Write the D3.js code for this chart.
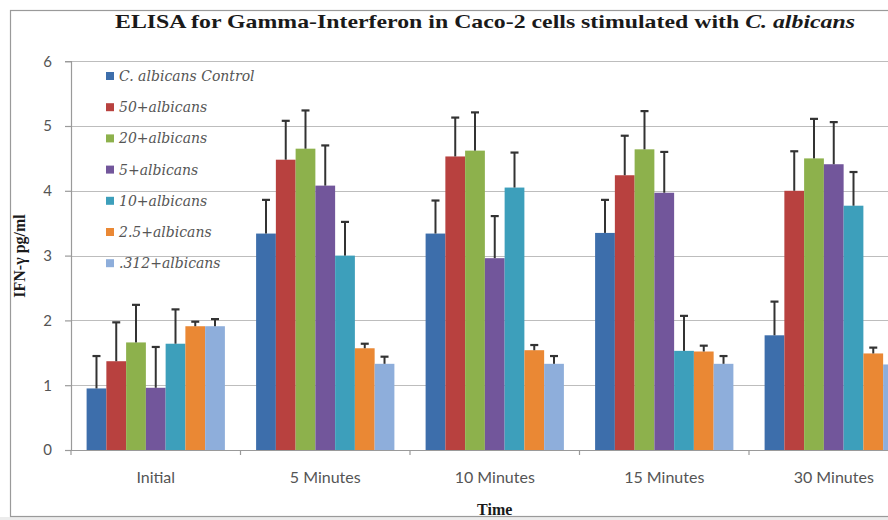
<!DOCTYPE html>
<html>
<head>
<meta charset="utf-8">
<script src="https://cdn.jsdelivr.net/npm/d3@7"></script>
<style>
  html, body { margin: 0; padding: 0; background: #ffffff; }
  svg { display: block; }
</style>
</head>
<body>
<svg id="chart" width="888" height="520"></svg>
<script>
// Time points on the x axis
const timePoints = ["Initial", "5 Minutes", "10 Minutes", "15 Minutes", "30 Minutes"];

// Treatment series (legend order)
const seriesNames = ["C. albicans Control", "50+albicans", "20+albicans", "5+albicans",
                     "10+albicans", "2.5+albicans", ".312+albicans"];
const seriesColors = ["#3d6eab", "#b8413f", "#8db14c", "#72569b", "#3d9fbb", "#ea8834", "#8eaedb"];

// Mean IFN-γ (pg/ml) per series, one value per time point
const controlMean = [0.95, 3.34, 3.34, 3.35, 1.77];
const d50Mean     = [1.37, 4.48, 4.53, 4.24, 4.00];
const d20Mean     = [1.66, 4.65, 4.62, 4.64, 4.50];
const d5Mean      = [0.96, 4.08, 2.96, 3.97, 4.41];
const d10Mean     = [1.64, 3.00, 4.05, 1.53, 3.77];
const d25Mean     = [1.91, 1.57, 1.54, 1.52, 1.49];
const d312Mean    = [1.91, 1.33, 1.33, 1.33, 1.32];

// Upper error (standard deviation) per series
const controlErr = [0.50, 0.52, 0.51, 0.51, 0.52];
const d50Err     = [0.60, 0.60, 0.60, 0.61, 0.61];
const d20Err     = [0.58, 0.59, 0.59, 0.59, 0.61];
const d5Err      = [0.63, 0.62, 0.65, 0.63, 0.65];
const d10Err     = [0.53, 0.52, 0.54, 0.54, 0.52];
const d25Err     = [0.07, 0.07, 0.08, 0.09, 0.09];
const d312Err    = [0.11, 0.11, 0.12, 0.12, 0.12];

const yTicks = [0, 1, 2, 3, 4, 5, 6];

const means = [controlMean, d50Mean, d20Mean, d5Mean, d10Mean, d25Mean, d312Mean];
const errs  = [controlErr, d50Err, d20Err, d5Err, d10Err, d25Err, d312Err];

const svg = d3.select("#chart");

// Outer chart frame, with the grey strip beneath it
svg.append("rect").attr("x", 0).attr("y", 517).attr("width", 888).attr("height", 3).attr("fill", "#ececec");
svg.append("rect")
  .attr("x", 10.5).attr("y", 10.5).attr("width", 930).attr("height", 506)
  .attr("fill", "#ffffff").attr("stroke", "#9a9a9a").attr("stroke-width", 1.2);

const plot = { left: 71, right: 918.5, top: 61.2, bottom: 450 };

const x0 = d3.scaleBand().domain(timePoints).range([plot.left, plot.right]).padding(0);
const x1 = d3.scaleBand().domain(seriesNames).range([0, x0.bandwidth()])
  .paddingInner(0).paddingOuter(0.79);
const y = d3.scaleLinear().domain([0, 6]).range([plot.bottom, plot.top]);

// Horizontal gridlines
svg.append("g").selectAll("line").data(yTicks.filter(d => d > 0)).join("line")
  .attr("x1", plot.left).attr("x2", plot.right)
  .attr("y1", d => Math.round(y(d)) + 0.5).attr("y2", d => Math.round(y(d)) + 0.5)
  .attr("stroke", "#bdbdbd").attr("stroke-width", 1.2);

// Y axis
const yAxis = svg.append("g").attr("transform", `translate(${plot.left},0)`)
  .call(d3.axisLeft(y).tickValues(yTicks).tickSize(6).tickPadding(13).tickFormat(d3.format("d")));
yAxis.select(".domain").attr("stroke", "#9a9a9a").attr("stroke-width", 1.2);
yAxis.selectAll(".tick line").attr("stroke", "#9a9a9a").attr("stroke-width", 1.2);
yAxis.selectAll(".tick text")
  .attr("font-family", "Lato, 'Open Sans', sans-serif").attr("font-size", 15)
  .attr("fill", "#555555");

// Bars
const groups = svg.append("g").selectAll("g").data(timePoints).join("g")
  .attr("transform", d => `translate(${x0(d)},0)`);

groups.selectAll("rect")
  .data((t, ti) => seriesNames.map((s, si) => ({ s, si, v: means[si][ti], e: errs[si][ti] })))
  .join("rect")
  .attr("x", d => x1(d.s))
  .attr("width", x1.bandwidth())
  .attr("y", d => y(d.v))
  .attr("height", d => y(0) - y(d.v))
  .attr("fill", d => seriesColors[d.si]);

// Upper error bars
const eb = groups.selectAll("g.err")
  .data((t, ti) => seriesNames.map((s, si) => ({ s, si, v: means[si][ti], e: errs[si][ti] })))
  .join("g").attr("class", "err");
eb.append("line")
  .attr("x1", d => x1(d.s) + x1.bandwidth() / 2).attr("x2", d => x1(d.s) + x1.bandwidth() / 2)
  .attr("y1", d => y(d.v)).attr("y2", d => y(d.v + d.e))
  .attr("stroke", "#333333").attr("stroke-width", 2);
eb.append("line")
  .attr("x1", d => x1(d.s) + x1.bandwidth() / 2 - 4).attr("x2", d => x1(d.s) + x1.bandwidth() / 2 + 4)
  .attr("y1", d => y(d.v + d.e)).attr("y2", d => y(d.v + d.e))
  .attr("stroke", "#333333").attr("stroke-width", 2.2);

// X axis
const xAxis = svg.append("g").attr("transform", `translate(0,${plot.bottom})`)
  .call(d3.axisBottom(x0).tickSize(0).tickPadding(22));
xAxis.select(".domain").attr("stroke", "#9a9a9a").attr("stroke-width", 1.2);
xAxis.selectAll(".tick text")
  .attr("font-family", "Lato, 'Open Sans', sans-serif").attr("font-size", 16)
  .attr("fill", "#555555");
// Category boundary tick marks
svg.append("g").selectAll("line")
  .data(timePoints.concat(["end"]))
  .join("line")
  .attr("x1", (d, i) => i < timePoints.length ? x0(d) : plot.right)
  .attr("x2", (d, i) => i < timePoints.length ? x0(d) : plot.right)
  .attr("y1", plot.bottom).attr("y2", plot.bottom + 5)
  .attr("stroke", "#9a9a9a").attr("stroke-width", 1.2);

// Legend
const legend = svg.append("g").attr("transform", "translate(106,76)");
const li = legend.selectAll("g").data(seriesNames).join("g")
  .attr("transform", (d, i) => `translate(0,${i * 31.2})`);
li.append("rect").attr("x", 0).attr("y", -4).attr("width", 8).attr("height", 8)
  .attr("fill", (d, i) => seriesColors[i]);
li.append("text").attr("x", 13).attr("y", 5)
  .attr("font-family", "'DejaVu Serif', 'Liberation Serif', serif")
  .attr("font-style", "italic").attr("font-size", 14).attr("fill", "#555555")
  .text(d => d);

// Title
const title = svg.append("text").attr("x", 485).attr("y", 28)
  .attr("text-anchor", "middle")
  .attr("font-family", "'Liberation Serif', 'Times New Roman', serif")
  .attr("font-weight", "bold").attr("font-size", 19).attr("fill", "#1a1a1a")
  .attr("textLength", 740).attr("lengthAdjust", "spacingAndGlyphs");
title.append("tspan").text("ELISA for Gamma-Interferon in Caco-2 cells stimulated with ");
title.append("tspan").attr("font-style", "italic").text("C. albicans");

// Axis titles
svg.append("text")
  .attr("transform", "translate(25,256) rotate(-90)")
  .attr("text-anchor", "middle")
  .attr("font-family", "'Liberation Serif', 'Times New Roman', serif")
  .attr("font-weight", "bold").attr("font-size", 16).attr("fill", "#1a1a1a")
  .text("IFN-γ pg/ml");

svg.append("text").attr("x", (plot.left + plot.right) / 2).attr("y", 515)
  .attr("text-anchor", "middle")
  .attr("font-family", "'Liberation Serif', 'Times New Roman', serif")
  .attr("font-weight", "bold").attr("font-size", 16).attr("fill", "#1a1a1a")
  .text("Time");
</script>
</body>
</html>
